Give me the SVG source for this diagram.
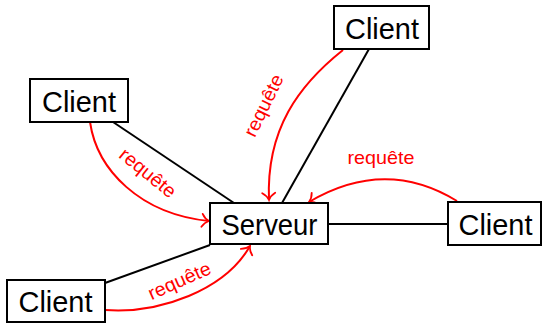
<svg xmlns="http://www.w3.org/2000/svg" width="542" height="323" viewBox="0 0 542 323">
  <style>
    .box { fill: #ffffff; stroke: #000000; stroke-width: 2; }
    .name { font-family: "Liberation Sans", Arial, sans-serif; font-size: 30px; fill: #000000; text-anchor: middle; }
    .link { fill: none; stroke: #000000; stroke-width: 2; }
    .req { fill: none; stroke: #ff0000; stroke-width: 2; marker-end: url(#to); }
    .lbl { font-family: "Liberation Sans", Arial, sans-serif; font-size: 19px; fill: #ff0000; text-anchor: middle; }
  </style>
  <defs>
    <marker id="to" markerUnits="userSpaceOnUse" viewBox="-9 -8 10 16" refX="0" refY="0" markerWidth="10" markerHeight="16" orient="auto" overflow="visible">
      <path d="M-7,-6.5 C-5,-3 -2,-0.8 0,0 C-2,0.8 -5,3 -7,6.5" fill="none" stroke="#ff0000" stroke-width="1.8" stroke-linecap="round"/>
    </marker>
  </defs>

  <!-- plain links between each client and the server -->
  <g id="connectors">
    <line class="link" x1="113" y1="122" x2="234" y2="203"/>
    <line class="link" x1="369" y1="49" x2="282" y2="203"/>
    <line class="link" x1="328" y1="224" x2="448" y2="224"/>
    <line class="link" x1="105" y1="283" x2="210" y2="245"/>

    <!-- request arrows -->
    <path class="req" d="M90,122 C97,170 140,214 209,221"/>
    <path class="req" d="M343,50 C299,85 266,129 269,200"/>
    <path class="req" d="M457,201 Q385,157 309,202"/>
    <path class="req" d="M105,310 C160,314 225,290 250,246"/>

    <g transform="translate(147,174) rotate(39)"><text class="lbl" x="0" y="5" textLength="67" lengthAdjust="spacingAndGlyphs">requête</text></g>
    <g transform="translate(265,106) rotate(-64)"><text class="lbl" x="0" y="5" textLength="67" lengthAdjust="spacingAndGlyphs">requête</text></g>
    <text class="lbl" x="381" y="163.5" textLength="67" lengthAdjust="spacingAndGlyphs">requête</text>
    <g transform="translate(180,282) rotate(-24)"><text class="lbl" x="0" y="5" textLength="67" lengthAdjust="spacingAndGlyphs">requête</text></g>
  </g>

  <g id="server">
    <rect class="box" x="210" y="203" width="118" height="41"/>
    <text class="name" x="269.5" y="235" textLength="96" lengthAdjust="spacingAndGlyphs">Serveur</text>
  </g>
  <g id="client-top-left">
    <rect class="box" x="30" y="79" width="98" height="43"/>
    <text class="name" x="79" y="112" textLength="74" lengthAdjust="spacingAndGlyphs">Client</text>
  </g>
  <g id="client-top">
    <rect class="box" x="334" y="6" width="95" height="43"/>
    <text class="name" x="382" y="39" textLength="74" lengthAdjust="spacingAndGlyphs">Client</text>
  </g>
  <g id="client-right">
    <rect class="box" x="448" y="202" width="93" height="43"/>
    <text class="name" x="495.5" y="235" textLength="74" lengthAdjust="spacingAndGlyphs">Client</text>
  </g>
  <g id="client-bottom">
    <rect class="box" x="7" y="280" width="98" height="42"/>
    <text class="name" x="55.5" y="312" textLength="74" lengthAdjust="spacingAndGlyphs">Client</text>
  </g>
</svg>
